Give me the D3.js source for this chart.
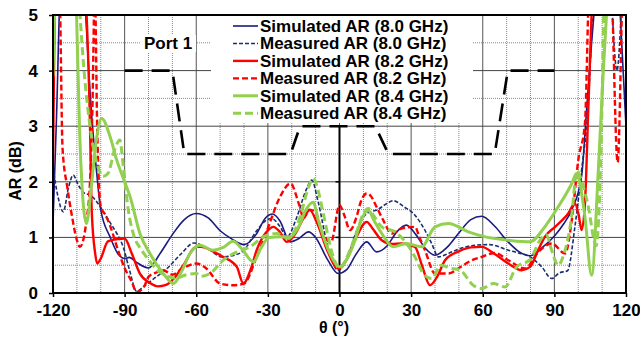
<!DOCTYPE html>
<html>
<head>
<meta charset="utf-8">
<script src="https://cdnjs.cloudflare.com/ajax/libs/d3/7.8.5/d3.min.js"></script>
<style>
    body { margin: 0; background: #fff; }
    svg text { font-family: "Liberation Sans", Arial, sans-serif; font-weight: bold; fill: #000; }
</style>
</head>
<body>
<div id="chart"></div>
<script>
// [theta (deg), AR (dB)], values above 5 are clipped
var sim80 = [[-120,1.25],[-118.5,3.2],[-117,5.5],[-112,8],[-107,5.5],[-104,3.3],[-102,2.3],[-100,1.5],[-96,1.0],[-93,0.72],[-90,0.62],[-88,0.64],[-85,0.55],[-80,0.45],[-75,0.72],[-70,1.05],[-65,1.32],[-60,1.43],[-55,1.35],[-50,1.12],[-45,0.97],[-40,0.87],[-35,1.05],[-31,1.35],[-28,1.42],[-25,1.3],[-20.7,0.92],[-17,0.98],[-13,1.1],[-10,1.0],[-5,0.6],[-0.5,0.35],[3,0.42],[7,0.7],[11.4,0.92],[15.5,0.74],[20,0.85],[24,1.1],[28,1.22],[32,1.05],[36,0.8],[40,0.68],[45,0.82],[50,1.08],[55,1.32],[59.6,1.38],[65,1.2],[70.6,0.92],[75,0.75],[79.8,0.67],[85,0.82],[90.3,1.04],[94,1.25],[97.3,1.5],[101.4,2.1],[103.5,3.3],[105.6,4.5],[107.5,5.5],[112,8],[117,5.5],[120,3.0]];

var meas80 = [[-120,2.25],[-118,1.75],[-115.7,1.46],[-113.5,1.9],[-111.5,2.12],[-109.5,1.95],[-107,1.8],[-104,1.75],[-101,1.6],[-98,1.4],[-96,1.26],[-93,1.05],[-90.6,0.83],[-88,0.42],[-85,0.03],[-82,0.12],[-78,0.25],[-72,0.45],[-66,0.72],[-61,0.9],[-56,0.82],[-49,0.65],[-44,0.68],[-40,0.77],[-35,1.1],[-31,1.3],[-28.4,1.34],[-25,1.2],[-22,1.01],[-18,1.35],[-14,1.85],[-11.6,2.03],[-9,1.65],[-5,0.85],[-0.6,0.41],[3,0.6],[7,1.1],[11.4,1.43],[16,1.5],[19.5,1.6],[22.5,1.66],[27,1.55],[31.6,1.4],[35.5,1.15],[38.6,0.89],[41.4,0.65],[46,0.72],[52,0.82],[57,0.86],[63,0.87],[70.7,0.77],[75,0.72],[79.8,0.65],[84.7,0.47],[88.9,0.26],[92,0.36],[95.5,0.4],[98.6,1.19],[101.4,2.21],[104.2,3.4],[106.5,5.5],[110,7],[113.5,5.5],[116.2,4.0],[118.5,5.5],[120,7]];

var sim82 = [[-120,2.3],[-119,5.5],[-113,8],[-106.5,5.5],[-104.5,3.0],[-103.8,1.5],[-102.3,0.7],[-101.5,0.53],[-100,0.62],[-97,0.93],[-93,0.97],[-90,0.98],[-87,0.71],[-83.6,0.35],[-79.4,0.18],[-76,0.12],[-73,0.14],[-69,0.28],[-65.4,0.5],[-60,0.83],[-58,0.83],[-53,0.75],[-48.8,0.65],[-43,0.47],[-40.3,0.17],[-37,0.45],[-34.7,0.77],[-30.5,1.1],[-27.7,1.19],[-25,1.1],[-22.1,0.92],[-18,1.1],[-15.2,1.34],[-12.4,1.49],[-9.6,1.28],[-5,0.75],[-0.5,0.44],[3,0.6],[7,1.0],[11.4,1.28],[14,1.15],[17.7,0.95],[22,0.88],[26,0.89],[31.6,0.83],[34.5,0.5],[37.9,0.14],[41,0.3],[44.2,0.59],[50,0.75],[55,0.82],[59.6,0.83],[65,0.7],[70.7,0.53],[76.3,0.41],[79.8,0.47],[83,0.75],[86,1.01],[90.3,1.19],[95.8,1.43],[98.6,1.61],[100.2,1.4],[101.4,1.13],[102.8,1.6],[104.2,3.3],[106,5.5],[110,8],[120,8]];

var meas82 = [[-120,6],[-117.3,5.5],[-116,2.6],[-114,1.9],[-112,1.37],[-110,0.95],[-108.7,0.83],[-106,1.3],[-104.5,2.0],[-103.5,3.3],[-102.5,5.5],[-101.5,3.0],[-100,1.55],[-98,1.4],[-96,1.2],[-93,0.8],[-90,0.45],[-87,0.2],[-85,0.02],[-82,0.1],[-80,0.29],[-76,0.38],[-73.8,0.41],[-70,0.33],[-65.5,0.45],[-60,0.53],[-56,0.45],[-50,0.17],[-44.6,0.14],[-40,0.17],[-34.7,0.65],[-29.8,1.19],[-24.9,1.73],[-20.5,1.97],[-17,1.6],[-15,1.35],[-12.5,1.5],[-10,1.45],[-7,1.05],[-3.5,0.92],[0,1.58],[2,1.4],[4.4,1.13],[7,1.35],[9,1.65],[11.4,1.79],[13,1.75],[15.5,1.55],[18.3,1.31],[21.9,1.07],[26,1.16],[31.6,1.19],[33.5,1.0],[35.8,0.77],[40,0.35],[45.6,0.35],[50,0.45],[55,0.58],[59.6,0.65],[65,0.72],[70.7,0.59],[77.7,0.44],[83.3,0.74],[88.9,0.89],[94.5,0.71],[97.3,1.31],[100,2.39],[102.8,3.05],[104.5,5.5],[110,8],[114,5.5],[116.5,2.35],[118.5,5.5],[120,8]];

var sim84 = [[-120,3.9],[-119,5.5],[-114,8],[-110.5,5.5],[-108.5,2.5],[-106,1.25],[-104,1.9],[-102,2.7],[-99.6,3.14],[-96,2.8],[-93.3,2.39],[-90,2.0],[-87.7,1.73],[-83.6,1.07],[-79.4,0.71],[-73.8,0.35],[-69.6,0.17],[-66,0.4],[-62.6,0.71],[-58.5,0.86],[-53,0.77],[-48.7,0.82],[-44.6,0.93],[-41,0.8],[-36.1,0.56],[-33,0.8],[-29.5,1.0],[-24,1.01],[-20.7,1.01],[-17,1.2],[-14,1.5],[-11,1.63],[-8.9,1.31],[-4,0.71],[0.2,0.47],[2.3,0.56],[6.5,0.95],[9,1.3],[12,1.49],[14.5,1.3],[17.7,1.07],[22.5,0.83],[28.1,0.89],[34.4,0.83],[40,1.19],[45.6,1.25],[54,1.1],[61,1.01],[70.7,0.95],[79.8,0.92],[86,1.19],[91.6,1.55],[97.3,1.97],[99.3,2.15],[101,1.9],[102.8,1.37],[105.6,0.32],[108.4,2.2],[110.5,4],[112.5,5.5],[116,8],[120,8]];

var meas84 = [[-120,4.7],[-119,5.5],[-114,8],[-109.5,5.5],[-107,4],[-104.5,3.0],[-101.7,2.35],[-99,2.1],[-97,2.15],[-94,2.6],[-92,2.75],[-90.6,2.3],[-88.5,1.5],[-86.4,1.07],[-83,0.78],[-80,0.6],[-76,0.4],[-72,0.3],[-68.3,0.27],[-64,0.33],[-60,0.35],[-58,0.3],[-54.2,0.35],[-48.7,0.59],[-43,0.74],[-37.5,0.83],[-31.9,1.01],[-26.3,1.07],[-21.4,0.98],[-16.5,1.37],[-13,1.9],[-11,2.06],[-9,1.85],[-6.8,1.43],[-2.6,0.65],[0,0.44],[4.4,0.77],[8,1.2],[10,1.43],[12,1.52],[14.5,1.38],[17.7,1.19],[23.2,1.1],[28.1,0.89],[31.6,0.65],[35.1,0.35],[38.6,0.26],[42.5,0.5],[46,0.45],[50.5,0.41],[56,0.14],[59.6,0.08],[64.4,0.17],[69.3,0.11],[74.2,0.47],[79.8,0.6],[84,0.95],[86.5,1.05],[89,0.75],[91.5,0.5],[94,0.7],[97,1.3],[99.5,2.2],[101.5,2.0],[104,1.6],[107.5,0.85],[109.5,2.5],[111,5.5],[116,8],[120,8]];

// spec mask (black dashed)
var maskTheta = [-90, -70, -65, -20.5, -16.5, 15, 20.5, 65, 70.5, 90];
var maskAR    = [4, 4, 2.5, 2.5, 3, 3, 2.5, 2.5, 4, 4];

var xTicks = [-120, -90, -60, -30, 0, 30, 60, 90, 120];
var yTicks = [0, 1, 2, 3, 4, 5];

var series = [
    {name: "Simulated AR (8.0 GHz)", data: sim80,  color: "#1a1a80", width: 1.6, dash: null},
    {name: "Measured AR (8.0 GHz)",  data: meas80, color: "#1a2f6e", width: 1.6, dash: "4,2"},
    {name: "Simulated AR (8.2 GHz)", data: sim82,  color: "#ff0000", width: 2.4, dash: null},
    {name: "Measured AR (8.2 GHz)",  data: meas82, color: "#ff0000", width: 2.4, dash: "6,3"},
    {name: "Simulated AR (8.4 GHz)", data: sim84,  color: "#92d050", width: 3,   dash: null},
    {name: "Measured AR (8.4 GHz)",  data: meas84, color: "#92d050", width: 3,   dash: "8,4"}
];

var width = 640, height = 338;
var plot = {left: 53, right: 626, top: 15, bottom: 293};

var xScale = d3.scaleLinear().domain([-120, 120]).range([plot.left, plot.right]);
var yScale = d3.scaleLinear().domain([0, 5]).range([plot.bottom, plot.top]);

var svg = d3.select("#chart")
    .append("svg")
    .attr("width", width)
    .attr("height", height);

svg.append("defs").append("clipPath")
    .attr("id", "plotClip")
    .append("rect")
    .attr("x", plot.left)
    .attr("y", plot.top)
    .attr("width", plot.right - plot.left)
    .attr("height", plot.bottom - plot.top);

// grid
var gridX = d3.range(-110, 120, 10);
svg.append("g").selectAll("line")
    .data(gridX)
    .enter().append("line")
    .attr("x1", function (d) { return xScale(d); })
    .attr("x2", function (d) { return xScale(d); })
    .attr("y1", plot.top)
    .attr("y2", plot.bottom)
    .attr("stroke", function (d) { return d % 30 === 0 ? "#555" : "#888"; })
    .attr("stroke-width", 1)
    .attr("stroke-dasharray", function (d) { return d % 30 === 0 ? null : "1,1"; });

var gridY = d3.range(0.5, 5, 0.5);
svg.append("g").selectAll("line")
    .data(gridY)
    .enter().append("line")
    .attr("x1", plot.left)
    .attr("x2", plot.right)
    .attr("y1", function (d) { return yScale(d); })
    .attr("y2", function (d) { return yScale(d); })
    .attr("stroke", function (d) { return d % 1 === 0 ? "#444" : "#888"; })
    .attr("stroke-width", 1)
    .attr("stroke-dasharray", function (d) { return d % 1 === 0 ? null : "1,1"; });

// legend + port label backgrounds hide the grid
svg.append("rect")
    .attr("x", 211).attr("y", 16)
    .attr("width", 262).attr("height", 107)
    .attr("fill", "#fff");

svg.append("rect")
    .attr("x", 141).attr("y", 35)
    .attr("width", 55).attr("height", 17)
    .attr("fill", "#fff");

// centre axis at theta = 0
svg.append("line")
    .attr("x1", xScale(0)).attr("x2", xScale(0))
    .attr("y1", yScale(0)).attr("y2", yScale(3))
    .attr("stroke", "#000").attr("stroke-width", 2);

svg.append("g").selectAll("line")
    .data([1, 2])
    .enter().append("line")
    .attr("x1", xScale(0) - 4).attr("x2", xScale(0))
    .attr("y1", function (d) { return yScale(d); })
    .attr("y2", function (d) { return yScale(d); })
    .attr("stroke", "#000").attr("stroke-width", 1.5);

var line = d3.line()
    .x(function (d) { return xScale(d[0]); })
    .y(function (d) { return yScale(d[1]); })
    .curve(d3.curveMonotoneX);

var curves = svg.append("g").attr("clip-path", "url(#plotClip)");

series.forEach(function (s) {
    curves.append("path")
        .attr("d", line(s.data))
        .attr("fill", "none")
        .attr("stroke", s.color)
        .attr("stroke-width", s.width)
        .attr("stroke-dasharray", s.dash);
});

// mask
var maskLine = d3.line()
    .x(function (d, i) { return xScale(maskTheta[i]); })
    .y(function (d) { return yScale(d); });

svg.append("path")
    .attr("d", maskLine(maskAR))
    .attr("fill", "none")
    .attr("stroke", "#000")
    .attr("stroke-width", 2.6)
    .attr("stroke-dasharray", "18,9");

// frame
svg.append("rect")
    .attr("x", plot.left).attr("y", plot.top)
    .attr("width", plot.right - plot.left)
    .attr("height", plot.bottom - plot.top)
    .attr("fill", "none")
    .attr("stroke", "#000")
    .attr("stroke-width", 2);

// plain hyphen for negative numbers, like the original
var plainFormat = function (d) { return String(d); };

var xAxis = d3.axisBottom(xScale).tickValues(xTicks).tickSize(4).tickFormat(plainFormat);
var yAxis = d3.axisLeft(yScale).tickValues(yTicks).tickSize(4).tickFormat(plainFormat);

var xAxisG = svg.append("g")
    .attr("transform", "translate(0," + plot.bottom + ")")
    .call(xAxis);
var yAxisG = svg.append("g")
    .attr("transform", "translate(" + plot.left + ",0)")
    .call(yAxis);

d3.selectAll("path.domain").remove();

xAxisG.selectAll(".tick line").attr("stroke", "#000").attr("stroke-width", 1.5);
yAxisG.selectAll(".tick line").attr("stroke", "#000").attr("stroke-width", 1.5);

xAxisG.selectAll(".tick text")
    .attr("y", 11)
    .attr("dy", "0.71em")
    .style("font-size", "17px")
    .style("font-family", "'Liberation Sans', Arial, sans-serif")
    .style("font-weight", "bold");

yAxisG.selectAll(".tick text")
    .attr("x", -15)
    .style("font-size", "17px")
    .style("font-family", "'Liberation Sans', Arial, sans-serif")
    .style("font-weight", "bold");

// axis titles
svg.append("text")
    .attr("transform", "translate(21,171) rotate(-90)")
    .attr("text-anchor", "middle")
    .style("font-size", "16px")
    .text("AR (dB)");

svg.append("text")
    .attr("x", 334)
    .attr("y", 333)
    .attr("text-anchor", "middle")
    .style("font-size", "16px")
    .text("θ (°)");

svg.append("text")
    .attr("x", 144)
    .attr("y", 48.5)
    .style("font-size", "17px")
    .text("Port 1");

// legend
var legend = svg.append("g");
series.forEach(function (s, i) {
    var cy = 26 + i * 17.45;
    legend.append("line")
        .attr("x1", 233).attr("x2", 258)
        .attr("y1", cy).attr("y2", cy)
        .attr("stroke", s.color)
        .attr("stroke-width", s.width)
        .attr("stroke-dasharray", s.dash);
    legend.append("text")
        .attr("x", 260)
        .attr("y", cy + 6)
        .style("font-size", "17px")
        .text(s.name);
});
</script>
</body>
</html>
